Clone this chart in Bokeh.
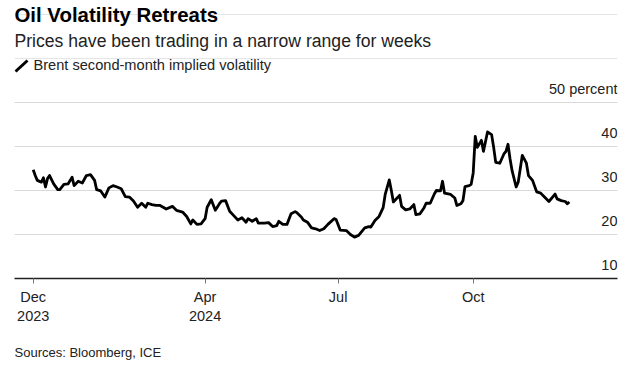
import numpy as np
from bokeh.plotting import figure
from bokeh.layouts import column
from bokeh.models import Range1d, FixedTicker, Grid
from bokeh.core.properties import value
from bokeh.embed import file_html
from bokeh.resources import INLINE

# ---------------- data ----------------
title = "Oil Volatility Retreats"
subtitle = "Prices have been trading in a narrow range for weeks"
series_name = "Brent second-month implied volatility"
source_note = "Sources: Bloomberg, ICE"

dates = [
    "2023-12-01", "2023-12-04", "2023-12-05", "2023-12-07", "2023-12-08", "2023-12-11",
    "2023-12-12", "2023-12-13", "2023-12-15", "2023-12-19", "2023-12-20", "2023-12-22",
    "2023-12-27", "2023-12-29", "2024-01-02", "2024-01-04", "2024-01-08", "2024-01-10",
    "2024-01-12", "2024-01-16", "2024-01-17", "2024-01-19", "2024-01-23", "2024-01-25",
    "2024-01-29", "2024-01-31", "2024-02-02", "2024-02-06", "2024-02-08", "2024-02-12",
    "2024-02-14", "2024-02-16", "2024-02-20", "2024-02-21", "2024-02-23", "2024-02-27",
    "2024-02-29", "2024-03-05", "2024-03-08", "2024-03-12", "2024-03-15", "2024-03-19",
    "2024-03-21", "2024-03-22", "2024-03-26", "2024-03-28", "2024-04-01", "2024-04-02",
    "2024-04-04", "2024-04-08", "2024-04-10", "2024-04-11", "2024-04-15", "2024-04-17",
    "2024-04-19", "2024-04-23", "2024-04-25", "2024-04-29", "2024-04-30", "2024-05-02",
    "2024-05-06", "2024-05-07", "2024-05-10", "2024-05-14", "2024-05-16", "2024-05-20",
    "2024-05-21", "2024-05-23", "2024-05-27", "2024-05-29", "2024-05-31", "2024-06-03",
    "2024-06-05", "2024-06-06", "2024-06-10", "2024-06-12", "2024-06-14", "2024-06-18",
    "2024-06-20", "2024-06-24", "2024-06-27", "2024-06-28", "2024-07-02", "2024-07-05",
    "2024-07-09", "2024-07-11", "2024-07-15", "2024-07-18", "2024-07-22", "2024-07-23",
    "2024-07-25", "2024-07-29", "2024-07-31", "2024-08-01", "2024-08-05", "2024-08-06",
    "2024-08-07", "2024-08-12", "2024-08-13", "2024-08-15", "2024-08-19", "2024-08-21",
    "2024-08-22", "2024-08-26", "2024-08-28", "2024-08-29", "2024-09-02", "2024-09-04",
    "2024-09-05", "2024-09-09", "2024-09-10", "2024-09-11", "2024-09-16", "2024-09-18",
    "2024-09-19", "2024-09-23", "2024-09-24", "2024-09-25", "2024-09-27", "2024-09-30",
    "2024-10-01", "2024-10-02", "2024-10-03", "2024-10-07", "2024-10-08", "2024-10-10",
    "2024-10-14", "2024-10-15", "2024-10-16", "2024-10-18", "2024-10-22", "2024-10-23",
    "2024-10-24", "2024-10-25", "2024-10-28", "2024-10-30", "2024-10-31", "2024-11-04",
    "2024-11-06", "2024-11-07", "2024-11-11", "2024-11-13", "2024-11-15", "2024-11-18",
    "2024-11-21", "2024-11-26", "2024-11-27", "2024-11-29", "2024-12-03", "2024-12-04",
    "2024-12-05",
]
vols = [
    34.7, 33.4, 32.3, 31.9, 32.9, 30.8,
    32.7, 33.4, 31.5, 30.2, 30.2, 31.4,
    31.5, 33.0, 31.1, 32.1, 31.7, 33.4,
    33.6, 32.3, 30.2, 29.9, 28.5, 30.6,
    31.1, 30.8, 30.4, 28.6, 28.5, 27.6,
    26.2, 27.1, 26.2, 27.1, 26.8, 26.6,
    26.6, 25.8, 26.4, 25.5, 25.1, 24.1,
    22.4, 23.3, 22.3, 22.4, 23.6, 26.2,
    27.9, 25.5, 27.0, 27.6, 27.7, 25.3,
    24.3, 23.3, 23.8, 22.8, 23.6, 23.0,
    23.6, 22.6, 22.6, 22.7, 21.8, 22.0,
    23.0, 22.3, 22.3, 24.7, 25.2, 24.9,
    24.0, 23.3, 22.8, 21.5, 21.3, 20.9,
    21.3, 22.3, 23.6, 23.4, 21.0, 20.9,
    20.0, 19.4, 19.8, 21.5, 21.8, 21.7,
    23.2, 24.1, 26.1, 29.1, 32.4, 30.0,
    27.4, 28.9, 26.4, 25.6, 25.8, 26.8,
    24.5, 24.7, 26.1, 27.1, 27.1, 29.2,
    30.0, 29.9, 32.1, 29.4, 29.1, 28.3,
    26.6, 27.0, 27.7, 30.9, 31.1, 31.4,
    34.0, 42.3, 39.8, 41.4, 38.9, 43.3,
    42.7, 39.8, 36.4, 36.2, 38.3, 38.9,
    40.5, 37.2, 34.5, 30.8, 31.9, 38.0,
    36.2, 33.4, 32.3, 29.7, 29.4, 28.9,
    27.5, 29.2, 28.1, 27.7, 27.5, 27.0,
    27.4,
]
holidays = ["2023-12-25", "2024-01-01"]
origin = "2023-12-01"
xtick_dates = ["2023-12-01", "2024-04-01", "2024-07-01", "2024-10-01"]
xtick_labels = ["Dec\n2023", "Apr\n2024", "Jul", "Oct"]
yticks = [10, 20, 30, 40, 50]
ytick_labels = ["10", "20", "30", "40", "50 percent"]
grid_ticks = [20, 30, 40, 50]


def trading_day(d):
    return np.busday_count(origin, np.array(d, dtype="datetime64[D]"), holidays=holidays)


x = trading_day(dates).astype(float)
xticks = [int(t) for t in trading_day(xtick_dates)]

# ---------------- layout ----------------
W = 639
H_MAIN, H_FOOT = 342, 24
FL, FR, FT, FB = 14, 22, 0, 64
FW, FH = W - FL - FR, H_MAIN - FT - FB
PX_PER_DAY = 2.0465
FIRST_TICK_PX = 18.7
PX_PER_UNIT = 4.4
x0 = -FIRST_TICK_PX / PX_PER_DAY
x1 = x0 + FW / PX_PER_DAY
y0 = 10
y1 = y0 + FH / PX_PER_UNIT

FONT = "Liberation Sans"

p = figure(width=W, height=H_MAIN, x_range=Range1d(x0, x1), y_range=Range1d(y0, y1),
           min_border_left=FL, min_border_right=FR, min_border_top=FT, min_border_bottom=FB,
           toolbar_location=None, output_backend="svg", y_axis_location=None, title=None)
p.outline_line_color = None
p.background_fill_color = "white"
p.border_fill_color = "white"
p.extra_x_ranges = {"px": Range1d(0, FW)}
p.extra_y_ranges = {"px": Range1d(FH, 0)}

p.add_layout(Grid(dimension=1, ticker=FixedTicker(ticks=grid_ticks),
                  grid_line_color="#d9d9d9", grid_line_width=1))
p.xgrid.visible = False

ax = p.xaxis[0]
ax.ticker = FixedTicker(ticks=xticks)
ax.major_label_overrides = dict(zip(xticks, xtick_labels))
ax.axis_line_color = "#222222"
ax.axis_line_width = 1.5
ax.major_tick_line_color = "#777777"
ax.major_tick_in = 0
ax.major_tick_out = 5
ax.minor_tick_line_color = None
ax.major_label_text_font = FONT
ax.major_label_text_font_size = "14.5px"
ax.major_label_text_color = "#222222"
ax.major_label_standoff = 5

# series line
p.line(x, vols, line_color="#000000", line_width=2.8, line_join="round")

# y labels, right aligned above gridlines
p.text(x=[x1] * len(yticks), y=yticks, text=ytick_labels, text_align="right",
       text_baseline="alphabetic", y_offset=-14, text_font=value(FONT),
       text_font_size="14.5px", text_color="#222222")

# header
p.text(x=[0], y=[14.5], text=[title], x_range_name="px", y_range_name="px",
       text_font=value(FONT), text_font_style="bold", text_font_size="20.4px",
       text_baseline="alphabetic", text_color="#000000")
p.text(x=[0], y=[40], text=[subtitle], x_range_name="px", y_range_name="px",
       text_font=value(FONT), text_font_size="17.6px",
       text_baseline="alphabetic", text_color="#222222")
p.segment(x0=[1], y0=[71], x1=[13], y1=[60], x_range_name="px", y_range_name="px",
          line_color="#000000", line_width=3)
p.text(x=[19], y=[64.5], text=[series_name], x_range_name="px", y_range_name="px",
       text_font=value(FONT), text_font_size="14.6px",
       text_baseline="alphabetic", text_color="#222222")

# footer with the source note, framed to match the main chart's left edge
foot = figure(width=W, height=H_FOOT, x_range=Range1d(0, FW), y_range=Range1d(H_FOOT, 0),
              min_border_left=FL, min_border_right=FR, min_border_top=0, min_border_bottom=0,
              toolbar_location=None, output_backend="svg",
              x_axis_location=None, y_axis_location=None, title=None)
foot.outline_line_color = None
foot.grid.visible = False
foot.background_fill_color = "white"
foot.border_fill_color = "white"
foot.text(x=[0], y=[10], text=[source_note], text_font=value(FONT),
          text_font_size="13px", text_baseline="alphabetic", text_color="#222222")

layout = column(p, foot, spacing=0)
open("out.html", "w").write(file_html(layout, INLINE))
